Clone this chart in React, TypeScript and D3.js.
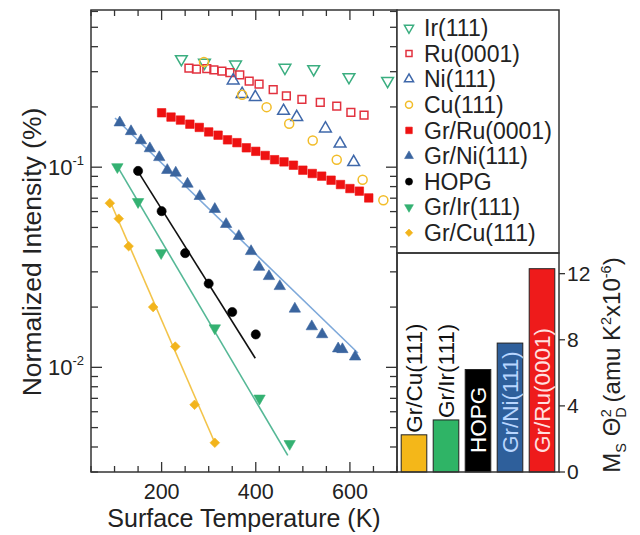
import React from "react";
import * as d3 from "d3";

// bare metal surfaces (open symbols)
const irT = [242, 291, 357, 462, 523, 598, 680];
const irV = [0.347, 0.333, 0.326, 0.314, 0.309, 0.282, 0.270];
const ruT = [258, 274, 296, 311, 328, 345, 366, 386, 407, 437, 465, 498, 537, 572, 602, 630];
const ruV = [0.313, 0.309, 0.311, 0.306, 0.302, 0.297, 0.289, 0.269, 0.26, 0.244, 0.227, 0.218, 0.211, 0.202, 0.188, 0.182];
const niT = [352, 371, 399, 459, 487, 548, 579, 608];
const niV = [0.271, 0.232, 0.224, 0.191, 0.178, 0.156, 0.131, 0.106];
const cuT = [290, 371, 423, 471, 521, 572, 627, 671];
const cuV = [0.335, 0.230, 0.1995, 0.165, 0.136, 0.109, 0.0866, 0.0684];

// graphene layers (filled symbols)
const grRuT = [200, 220, 240, 260, 280, 300, 320, 340, 360, 380, 400, 420, 440, 460, 480, 500, 520, 540, 560, 580, 600, 620, 640];
const grRuV = [0.187, 0.178, 0.172, 0.164, 0.158, 0.150, 0.1445, 0.137, 0.1326, 0.125, 0.120, 0.1144, 0.109, 0.1063, 0.1023, 0.0966, 0.093, 0.0902, 0.0861, 0.0819, 0.0782, 0.0759, 0.0702];
const grNiT = [111, 135, 156, 175, 195, 212, 230, 255, 281, 313, 337, 364, 390, 407, 428, 451, 483, 519, 541, 575, 584, 611];
const grNiV = [0.167, 0.151, 0.136, 0.124, 0.112, 0.0966, 0.0937, 0.0825, 0.0716, 0.0617, 0.0519, 0.0452, 0.038, 0.0317, 0.0285, 0.0254, 0.0196, 0.016, 0.0146, 0.0124, 0.0123, 0.0113];
const hopgT = [150, 200, 250, 300, 350, 400];
const hopgV = [0.0958, 0.0603, 0.0372, 0.0262, 0.0189, 0.0146];
const grIrT = [106, 150, 199, 313, 408, 472];
const grIrV = [0.1003, 0.0671, 0.0373, 0.0157, 0.0070, 0.00415];
const grCuT = [90, 109, 130, 182, 229, 270, 313];
const grCuV = [0.0661, 0.0553, 0.0403, 0.0200, 0.0127, 0.0065, 0.0042];

// exponential fits (end points)
const fitNiT = [101, 617];
const fitNiV = [0.176, 0.0118];
const fitHopgT = [149, 399];
const fitHopgV = [0.0958, 0.0111];
const fitIrT = [106, 468];
const fitIrV = [0.101, 0.00363];
const fitCuT = [90, 313];
const fitCuV = [0.068, 0.0042];

// bar panel
const barNames = ["Gr/Cu(111)", "Gr/Ir(111)", "HOPG", "Gr/Ni(111)", "Gr/Ru(0001)"];
const barValues = [2.25, 3.15, 6.2, 7.8, 12.3];
const barColors = ["#f4b719", "#2fb466", "#000000", "#2e5f9b", "#ee1b1b"];
const barTextColors = ["#111", "#111", "#fff", "#b9d6ff", "#ffe0e0"];
const barTicks = [0, 4, 8, 12];

const xMajor = [200, 400, 600];

const FONT = "Arial, 'Liberation Sans', Helvetica, sans-serif";

type Ser = { name: string; t: number[]; v: number[]; shape: string; color: string; open: boolean; size: number };

const series: Ser[] = [
  { name: "Ir(111)", t: irT, v: irV, shape: "triDown", color: "#3bae80", open: true, size: 60 },
  { name: "Ru(0001)", t: ruT, v: ruV, shape: "square", color: "#e2323f", open: true, size: 60 },
  { name: "Ni(111)", t: niT, v: niV, shape: "triUp", color: "#3f68aa", open: true, size: 60 },
  { name: "Cu(111)", t: cuT, v: cuV, shape: "circle", color: "#f2bd2a", open: true, size: 64 },
  { name: "Gr/Ru(0001)", t: grRuT, v: grRuV, shape: "square", color: "#ee1111", open: false, size: 72 },
  { name: "Gr/Ni(111)", t: grNiT, v: grNiV, shape: "triUp", color: "#3a659f", open: false, size: 56 },
  { name: "HOPG", t: hopgT, v: hopgV, shape: "circle", color: "#000000", open: false, size: 66 },
  { name: "Gr/Ir(111)", t: grIrT, v: grIrV, shape: "triDown", color: "#34b172", open: false, size: 56 },
  { name: "Gr/Cu(111)", t: grCuT, v: grCuV, shape: "diamond", color: "#f2b41c", open: false, size: 46 },
];

const fits = [
  { t: fitNiT, v: fitNiV, color: "#7ea9da" },
  { t: fitHopgT, v: fitHopgV, color: "#111" },
  { t: fitIrT, v: fitIrV, color: "#55b896" },
  { t: fitCuT, v: fitCuV, color: "#f3c44a" },
];

function symbolPath(shape: string, size: number) {
  const type =
    shape === "circle" ? d3.symbolCircle :
    shape === "square" || shape === "diamond" ? d3.symbolSquare :
    d3.symbolTriangle;
  return d3.symbol().type(type).size(size)() || "";
}
function symbolRot(shape: string) {
  if (shape === "triDown") return 180;
  if (shape === "diamond") return 45;
  return 0;
}

function Marker({ s, x, y, scale = 1 }: { s: Ser; x: number; y: number; scale?: number }) {
  return (
    <path
      d={symbolPath(s.shape, s.size * scale)}
      transform={`translate(${x},${y}) rotate(${symbolRot(s.shape)})`}
      fill={s.open ? "none" : s.color}
      stroke={s.color}
      strokeWidth={s.open ? 1.5 : 0.6}
    />
  );
}

export default function App() {
  const left = 91, right = 397, top = 10, bottom = 472;
  const x = d3.scaleLinear().domain([50, 700]).range([left, right]);
  const y = d3.scaleLog().domain([0.003, 0.61]).range([bottom, top]);

  const xMinor = d3.range(50, 701, 50);
  const yTicks: number[] = [];
  [0.001, 0.01, 0.1].forEach((d) => {
    for (let k = 1; k <= 9; k++) {
      const v = d * k;
      if (v >= 0.003 && v <= 0.61) yTicks.push(v);
    }
  });
  const isDecade = (v: number) => Math.abs(Math.log10(v) - Math.round(Math.log10(v))) < 1e-6;

  // bar panel
  const bLeft = 397, bRight = 559, bTop = 253;
  const bx = d3.scaleBand<string>().domain(barNames).range([398, 558]).paddingInner(0.2).paddingOuter(0.1);
  const by = d3.scaleLinear().domain([0, 13.25]).range([bottom, bTop]);

  const legY = (i: number) => 28 + 25.6 * i;

  return (
    <svg width={640} height={535} style={{ position: "absolute", left: 0, top: 0 }} fontFamily={FONT}>
      <rect width={640} height={535} fill="#fff" />

      {/* fit lines */}
      {fits.map((f, i) => {
        const path = d3
          .line<number>()
          .x((t) => x(t))
          .y((_, j) => y(f.v[j]))(f.t);
        return <path key={i} d={path || ""} fill="none" stroke={f.color} strokeWidth={1.6} />;
      })}

      {/* data points */}
      {series.map((s) =>
        s.t.map((t, i) => <Marker key={s.name + i} s={s} x={x(t)} y={y(s.v[i])} />)
      )}

      {/* main frame */}
      <rect x={left} y={top} width={right - left} height={bottom - top} fill="none" stroke="#333" strokeWidth={1.5} />
      {xMinor.map((t) => {
        const len = xMajor.includes(t) ? 10 : 6;
        return (
          <g key={"xt" + t}>
            <line x1={x(t)} x2={x(t)} y1={bottom} y2={bottom - len} stroke="#333" strokeWidth={1.3} />
            <line x1={x(t)} x2={x(t)} y1={top} y2={top + len} stroke="#333" strokeWidth={1.3} />
          </g>
        );
      })}
      {yTicks.map((v) => {
        const len = isDecade(v) ? 11 : 7;
        return (
          <g key={"yt" + v}>
            <line x1={left} x2={left + len} y1={y(v)} y2={y(v)} stroke="#333" strokeWidth={1.3} />
            <line x1={right} x2={right - len} y1={y(v)} y2={y(v)} stroke="#333" strokeWidth={1.3} />
          </g>
        );
      })}
      {xMajor.map((t) => (
        <text key={"xl" + t} x={x(t)} y={499} fontSize={21.5} textAnchor="middle" fill="#222">
          {t}
        </text>
      ))}
      {[0.1, 0.01].map((v) => (
        <text key={"yl" + v} x={84} y={y(v)} dy="0.35em" fontSize={22} textAnchor="end" fill="#222">
          10
          <tspan fontSize={13} dy={-10}>
            {"-" + Math.round(-Math.log10(v))}
          </tspan>
        </text>
      ))}
      <text x={244} y={527} fontSize={25} textAnchor="middle" fill="#222">
        Surface Temperature (K)
      </text>
      <text transform="translate(32,252) rotate(-90)" dy="0.35em" fontSize={26.5} textAnchor="middle" fill="#222">
        Normalized Intensity (%)
      </text>

      {/* legend */}
      <rect x={bLeft} y={top} width={bRight - bLeft} height={bTop - top} fill="#fff" stroke="#333" strokeWidth={1.5} />
      {series.map((s, i) => (
        <g key={"lg" + s.name}>
          <Marker s={s} x={409} y={legY(i)} scale={0.6} />
          <text x={424} y={legY(i)} dy="0.36em" fontSize={23} fill="#222">
            {s.name}
          </text>
        </g>
      ))}

      {/* bar panel */}
      {barNames.map((n, i) => (
        <rect
          key={"bar" + n}
          x={bx(n)}
          y={by(barValues[i])}
          width={bx.bandwidth()}
          height={bottom - by(barValues[i])}
          fill={barColors[i]}
          stroke="#222"
          strokeWidth={1}
        />
      ))}
      {barNames.map((n, i) => {
        const cx = (bx(n) || 0) + bx.bandwidth() / 2;
        const y0 = i < 2 ? by(barValues[i]) - 2 : 453;
        return (
          <text
            key={"bt" + n}
            transform={`translate(${cx},${y0}) rotate(-90)`}
            dy="0.36em"
            fontSize={22.5}
            fill={barTextColors[i]}
          >
            {n}
          </text>
        );
      })}
      <rect x={bLeft} y={bTop} width={bRight - bLeft} height={bottom - bTop} fill="none" stroke="#333" strokeWidth={1.5} />
      {barTicks.map((v) => (
        <g key={"bt" + v}>
          <line x1={bRight} x2={bRight + 6} y1={by(v)} y2={by(v)} stroke="#333" strokeWidth={1.3} />
          <text x={bRight + 8} y={by(v)} dy="0.35em" fontSize={21} fill="#222">
            {v}
          </text>
        </g>
      ))}
      <text transform="translate(612,365) rotate(-90)" dy="0.35em" fontSize={24} textAnchor="middle" fill="#222">
        M
        <tspan fontSize={14.5} dy={6}>S</tspan>
        <tspan dy={-6}> Θ</tspan>
        <tspan fontSize={14.5} dy={6}>D</tspan>
        <tspan fontSize={14.5} dx={-10} dy={-15}>2</tspan>
        <tspan dy={9}> (amu K</tspan>
        <tspan fontSize={14.5} dy={-9}>2</tspan>
        <tspan dy={9}>x10</tspan>
        <tspan fontSize={14.5} dy={-9}>-6</tspan>
        <tspan dy={9}>)</tspan>
      </text>
    </svg>
  );
}
